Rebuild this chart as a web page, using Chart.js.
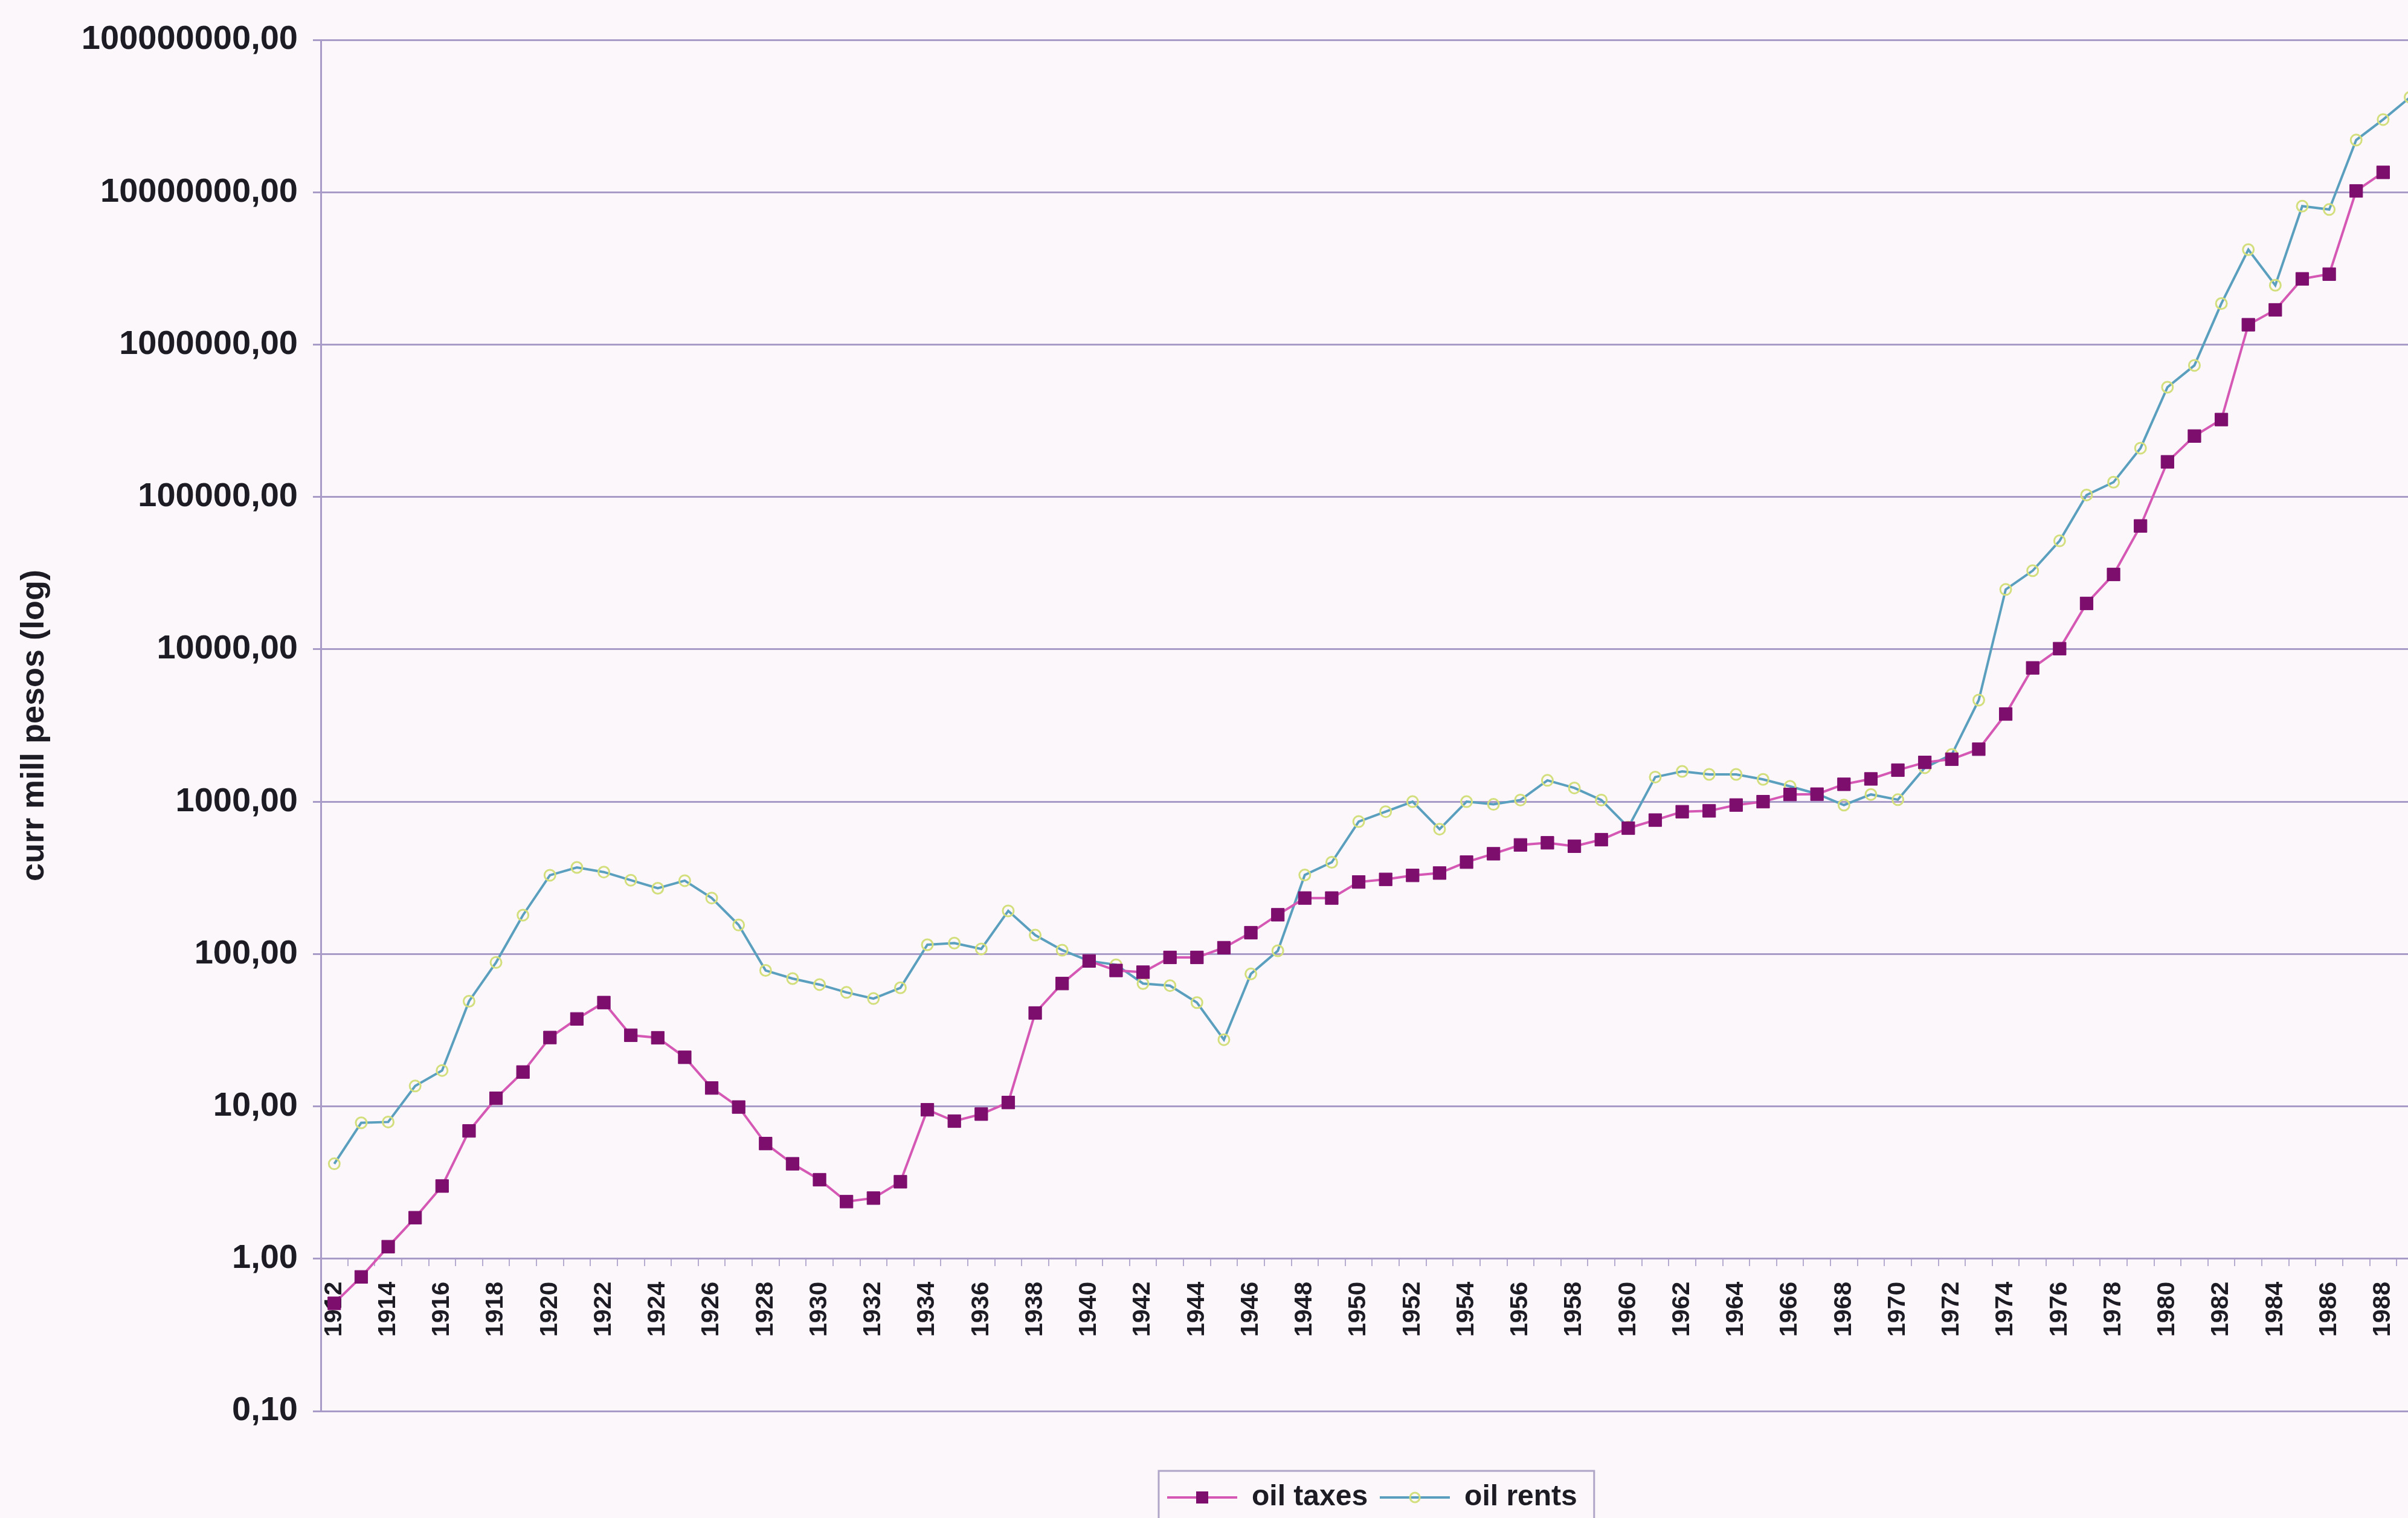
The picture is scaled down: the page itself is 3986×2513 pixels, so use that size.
<!DOCTYPE html>
<html>
<head>
<meta charset="utf-8">
<script src="https://cdn.jsdelivr.net/npm/chart.js@4.4.0/dist/chart.umd.min.js"></script>
<style>
  html,body{margin:0;padding:0;background:#fbf7fb;overflow:hidden;}
  #wrap{width:3986px;height:2513px;overflow:hidden;}
  canvas{display:block;}
</style>
</head>
<body>
<div id="wrap"><canvas id="oilChart" width="4065" height="2513"></canvas></div>
<script>
const years=['1912','1913','1914','1915','1916','1917','1918','1919','1920','1921','1922','1923','1924','1925','1926','1927','1928','1929',
  '1930','1931','1932','1933','1934','1935','1936','1937','1938','1939','1940','1941','1942','1943','1944','1945','1946','1947','1948','1949',
  '1950','1951','1952','1953','1954','1955','1956','1957','1958','1959','1960','1961','1962','1963','1964','1965','1966','1967','1968','1969',
  '1970','1971','1972','1973','1974','1975','1976','1977','1978','1979','1980','1981','1982','1983','1984','1985','1986','1987','1988','1989'];

// curr mill pesos
const oilTaxes=[0.51,0.76,1.2,1.86,3.0,6.9,11.3,16.8,28.3,37.5,48,29.3,28.2,21,13.2,9.9,5.7,4.2,
  3.3,2.37,2.5,3.2,9.5,8.0,8.9,10.6,41,64,90,78,76,95,95,110,138,181,233,233,
  297,309,328,340,401,455,520,537,510,563,670,757,859,870,950,1000,1115,1120,1300,1410,
  1610,1810,1900,2210,3760,7550,10100,20000,31000,64500,170000,251000,322000,1350000,1690000,2700000,2900000,10200000,13500000,null];

const oilRents=[4.2,7.8,7.9,13.6,17.2,49,88,180,329,370,345,305,270,303,233,155,78,69,
  63,56,51,60,115,118,108,192,133,106,90,85,64,62,48,27.4,74,105,330,400,
  740,860,1000,660,1000,960,1025,1380,1230,1025,680,1450,1580,1510,1510,1400,1260,1125,950,1115,
  1030,1670,2040,4640,24700,32800,51500,103000,125000,209000,525000,730000,1860000,4200000,2450000,8100000,7700000,22000000,30000000,42000000];

const yTicks=[0.1,1,10,100,1000,10000,100000,1000000,10000000,100000000];

const FONT="'Liberation Sans', Arial, sans-serif";
const INK='#1d1b24';
const GRID='#a99bc8';
const TAX_LINE='#d458b4', TAX_MARK='#7e0e6e';
const RENT_LINE='#5b9fbf', RENT_MARK='#d2df7c';

// legend samples: line with the marker in the middle, like the old spreadsheet legend
function legendSample(line, drawMark){
  const c=document.createElement('canvas'); c.width=116; c.height=26;
  const g=c.getContext('2d');
  g.strokeStyle=line; g.lineWidth=4;
  g.beginPath(); g.moveTo(0,13); g.lineTo(116,13); g.stroke();
  drawMark(g);
  return c;
}
const taxSample=legendSample(TAX_LINE,g=>{g.fillStyle=TAX_MARK; g.fillRect(48,3,20,20);});
const rentSample=legendSample(RENT_LINE,g=>{g.strokeStyle=RENT_MARK; g.lineWidth=3; g.beginPath(); g.arc(58,13,8,0,Math.PI*2); g.stroke();});

const legendFrame={id:'legendFrame',afterDraw(chart){
  const boxes=chart.legend&&chart.legend.legendHitBoxes; if(!boxes||!boxes.length) return;
  const ctx=chart.ctx;
  const l=Math.min(...boxes.map(b=>b.left))-14;
  const r=Math.max(...boxes.map(b=>b.left+b.width))+28;
  const t=boxes[0].top-20;
  ctx.save(); ctx.strokeStyle='#b0a6c8'; ctx.lineWidth=3; ctx.strokeRect(l,t,r-l,200); ctx.restore();
}};

new Chart(document.getElementById('oilChart'),{
  type:'line',
  data:{labels:years,datasets:[
    {label:'oil taxes',data:oilTaxes,borderColor:TAX_LINE,borderWidth:4,pointStyle:'rect',pointRadius:15,
      pointBackgroundColor:TAX_MARK,pointBorderColor:TAX_MARK,pointBorderWidth:1,tension:0},
    {label:'oil rents',data:oilRents,borderColor:RENT_LINE,borderWidth:4,pointStyle:'circle',pointRadius:9,
      pointBackgroundColor:'rgba(0,0,0,0)',pointBorderColor:RENT_MARK,pointBorderWidth:3,tension:0}
  ]},
  options:{
    responsive:false,animation:false,devicePixelRatio:1,
    layout:{padding:{top:66,left:0,right:0,bottom:0}},
    plugins:{
      tooltip:{enabled:false},
      legend:{position:'bottom',fullSize:false,
        labels:{usePointStyle:true,pointStyleWidth:116,padding:20,color:INK,font:{family:FONT,size:48,weight:'bold'},
          generateLabels:chart=>chart.data.datasets.map((d,i)=>({text:d.label,pointStyle:i===0?taxSample:rentSample,
            datasetIndex:i,fontColor:INK,lineWidth:0,strokeStyle:'rgba(0,0,0,0)',fillStyle:'rgba(0,0,0,0)',hidden:false}))}}
    },
    scales:{
      // category axis crosses the value axis at 1,00
      x:{type:'category',position:{y:1},offset:true,
        grid:{display:true,drawOnChartArea:false,drawTicks:true,tickLength:12,tickColor:'#b6abd0',lineWidth:2,offset:true},
        border:{display:false},
        ticks:{autoSkip:false,minRotation:90,maxRotation:90,padding:26,color:INK,font:{family:FONT,size:41,weight:'bold'},
          callback:(v,i)=>i%2===0?years[i]:''}},
      // empty bottom axis: only keeps the gap between the plot and the legend
      xGap:{type:'category',position:'bottom',display:true,grid:{display:false},border:{display:false},ticks:{display:false},
        afterFit:s=>{s.height=99;}},
      y:{type:'logarithmic',min:0.1,max:1e8,
        afterFit:s=>{s.width=531;},
        afterBuildTicks:s=>{s.ticks=yTicks.map(v=>({value:v}));},
        grid:{color:GRID,lineWidth:3,tickLength:13,tickColor:GRID},
        border:{display:true,color:GRID,width:3},
        ticks:{padding:25,color:INK,font:{family:FONT,size:56,weight:'bold'},callback:v=>Number(v).toFixed(2).replace('.',',')},
        title:{display:true,text:'curr mill pesos (log)',color:INK,font:{family:FONT,size:54,weight:'bold'},padding:{top:25,bottom:0}}}
    }
  },
  plugins:[legendFrame]
});
</script>
</body>
</html>
